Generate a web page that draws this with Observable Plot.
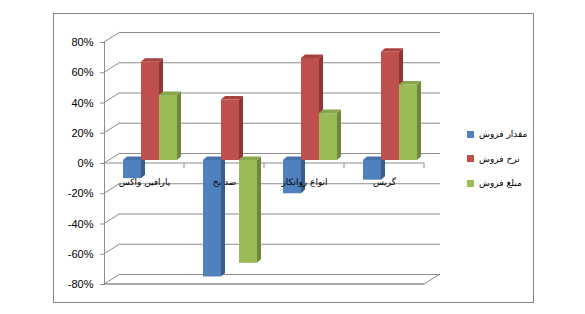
<!DOCTYPE html>
<html>
<head>
<meta charset="utf-8">
<script src="https://cdn.jsdelivr.net/npm/d3@7"></script>
<script src="https://cdn.jsdelivr.net/npm/@observablehq/plot@0.6"></script>
<style>
  html, body { margin: 0; padding: 0; background: #fff; }
  #wrap { position: relative; width: 585px; height: 314px; overflow: hidden; }
  #frame { position: absolute; left: 53px; top: 13px; width: 479px; height: 288px; border: 1px solid #868686; box-sizing: content-box; pointer-events: none; }
  #chart svg text { fill: #000; }
  #legend { position: absolute; left: 467px; top: 122px; font-family: "DejaVu Sans", sans-serif; font-size: 9px; color: #000; }
  .item { display: flex; align-items: center; height: 24.5px; }
  .sw { width: 7px; height: 7px; margin-right: 5px; flex: none; }
</style>
</head>
<body>
<div id="wrap">
  <div id="chart"></div>
  <div id="frame"></div>
  <div id="legend"></div>
</div>
<script>
// ---- data ----
const categories = ["پارافین واکس", "ضد یخ", "انواع روانکار", "گریس"];
const seriesNames = ["مقدار فروش", "نرخ فروش", "مبلغ فروش"];
const salesQuantity = [-0.12, -0.77, -0.22, -0.13];
const salesRate = [0.65, 0.40, 0.675, 0.715];
const salesAmount = [0.43, -0.68, 0.31, 0.50];
const yTicks = [-0.8, -0.6, -0.4, -0.2, 0, 0.2, 0.4, 0.6, 0.8];
const yTickLabels = ["-80%", "-60%", "-40%", "-20%", "0%", "20%", "40%", "60%", "80%"];

// ---- styles ----
const frontColors = ["#4F81BD", "#C0504D", "#9BBB59"];
const topColors = ["#4674AA", "#A8423F", "#88A64C"];
const sideColors = ["#385D8A", "#8C3836", "#6E893D"];
const insets = [[19, 43], [37, 25], [55, 7]];
const barDy = -3;           // bars sit slightly behind the front plane
const depthX = 4, depthY = 3.5;  // bar depth
const wallX = 16, wallY = 10;    // back-wall offset
const lineColor = "#8c8c8c";

const seriesValues = [salesQuantity, salesRate, salesAmount];
const data = categories.flatMap((c, i) =>
  seriesNames.map((s, j) => ({category: c, series: s, si: j, value: seriesValues[j][i]}))
);

function pick(args) {
  const scales = args.find(a => a && typeof a.x === "function" && typeof a.y === "function");
  const dims = args.find(a => a && a.marginLeft !== undefined && a.width !== undefined);
  return {scales, dims};
}
function bw(x) { return typeof x.bandwidth === "function" ? x.bandwidth() : x.bandwidth; }

// side wall diagonals, floor, front zero axis with category ticks
function wallMark(...args) {
  const {scales, dims} = pick(args);
  const {x, y} = scales;
  const g = d3.create("svg:g").attr("fill", "none").attr("stroke", lineColor);
  const x0 = dims.marginLeft, x1 = dims.width - dims.marginRight;
  for (const t of yTicks) {
    g.append("line").attr("x1", x0).attr("y1", y(t)).attr("x2", x0 + wallX).attr("y2", y(t) - wallY);
  }
  // floor
  const yb = y(yTicks[0]);
  g.append("line").attr("x1", x0).attr("y1", yb).attr("x2", x1).attr("y2", yb).attr("stroke-width", 1.5);
  g.append("line").attr("x1", x1).attr("y1", yb).attr("x2", x1 + wallX).attr("y2", yb - wallY);
  // front zero axis
  const y0 = y(0);
  g.append("line").attr("x1", x0).attr("y1", y0).attr("x2", x1).attr("y2", y0);
  const b = bw(x);
  for (const c of categories) {
    g.append("line").attr("x1", x(c) + b).attr("y1", y0).attr("x2", x(c) + b).attr("y2", y0 + 5);
  }
  return g.node();
}

// depth faces (side & top) of the bars
function depthMark(...args) {
  const {scales} = pick(args);
  const {x, y} = scales;
  const b = bw(x);
  const g = d3.create("svg:g");
  for (const d of data) {
    const [il, ir] = insets[d.si];
    const xa = x(d.category) + il, xb = x(d.category) + b - ir;
    const ya = y(0) + barDy, yv = y(d.value) + barDy;
    const yt = Math.min(ya, yv), ybt = Math.max(ya, yv);
    g.append("polygon")
      .attr("points", [[xb, yt], [xb + depthX, yt - depthY], [xb + depthX, ybt - depthY], [xb, ybt]].join(" "))
      .attr("fill", sideColors[d.si]);
    g.append("polygon")
      .attr("points", [[xa, yt], [xa + depthX, yt - depthY], [xb + depthX, yt - depthY], [xb, yt]].join(" "))
      .attr("fill", topColors[d.si]);
  }
  return g.node();
}

const frontBars = seriesNames.map((s, j) =>
  Plot.barY(data.filter(d => d.si === j), {
    x: "category", y: "value", fill: frontColors[j],
    insetLeft: insets[j][0], insetRight: insets[j][1], dy: barDy
  })
);

const chart = Plot.plot({
  width: 585,
  height: 314,
  marginLeft: 104,
  marginRight: 161,
  marginTop: 42,
  marginBottom: 30,
  style: {fontFamily: "'Liberation Sans', Arial, sans-serif", fontSize: "11px", color: lineColor, background: "transparent"},
  x: {type: "band", domain: categories, paddingInner: 0, paddingOuter: 0, axis: null},
  y: {
    domain: [-0.8, 0.8],
    ticks: yTicks,
    tickFormat: v => yTickLabels[yTicks.findIndex(t => Math.abs(t - v) < 1e-9)],
    tickSize: 4,
    tickPadding: 7,
    line: true,
    label: null
  },
  marks: [
    Plot.ruleY(yTicks, {stroke: lineColor, dx: wallX, dy: -wallY}),
    wallMark,
    depthMark,
    ...frontBars,
    Plot.text(categories, {
      x: d => d, y: () => 0, text: d => d, dy: 19,
      fill: "#000", fontSize: 9, fontFamily: "'DejaVu Sans', sans-serif"
    })
  ]
});
document.getElementById("chart").appendChild(chart);

const legend = document.getElementById("legend");
seriesNames.forEach((s, j) => {
  const row = document.createElement("div");
  row.className = "item";
  const sw = document.createElement("span");
  sw.className = "sw";
  sw.style.background = frontColors[j];
  const tx = document.createElement("span");
  tx.textContent = s;
  tx.dir = "rtl";
  row.appendChild(sw);
  row.appendChild(tx);
  legend.appendChild(row);
});
</script>
</body>
</html>
